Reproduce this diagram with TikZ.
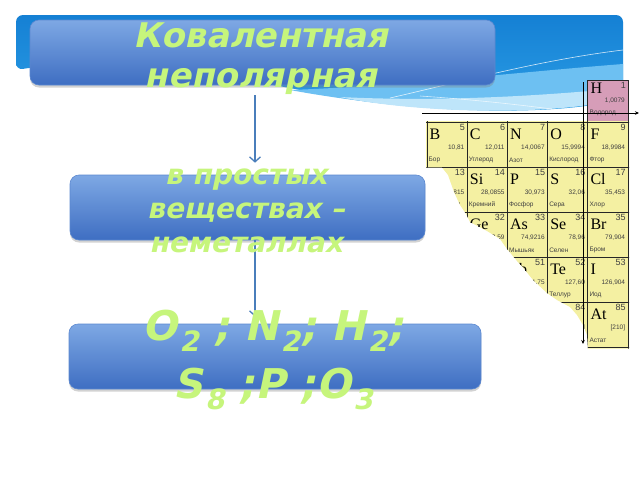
\documentclass[tikz,border=0pt]{standalone}
\usepackage{fontspec}
\setmainfont{DejaVu Sans}
\newfontfamily\boxfont{DejaVu Sans Bold}[FakeSlant=0.21]
\newfontfamily\symfont{Liberation Serif}
\newfontfamily\smallfont{Liberation Sans}
\usetikzlibrary{calc,arrows.meta,shadows}

\definecolor{bandtop}{HTML}{1580D4}
\definecolor{bandbot}{HTML}{2C9FE6}
\definecolor{wavemid}{HTML}{6DC0F2}
\definecolor{wavelight}{HTML}{BEE5FA}
\definecolor{boxtop}{HTML}{7EA8E4}
\definecolor{boxbot}{HTML}{3E6EC2}
\definecolor{boxedge}{HTML}{5B88D0}
\definecolor{textgreen}{HTML}{C6F57C}
\definecolor{arrowblue}{HTML}{4A7EBB}
\definecolor{cellyellow}{HTML}{F4F0A2}
\definecolor{cellpink}{HTML}{D69DB8}

\newcommand{\lowsub}[1]{\kern2.5pt\raisebox{-0.26em}{\fontsize{28}{28}\selectfont #1}}

\begin{document}
\begin{tikzpicture}[x=1pt,y=-1pt,
    bluebox/.style={rounded corners=9pt, top color=boxtop, bottom color=boxbot, draw=boxedge, line width=0.6pt,
                    drop shadow={opacity=0.35, shadow xshift=0pt, shadow yshift=-2.5pt}, inner sep=0pt},
    boxtext/.style={text=textgreen, align=center, inner sep=0pt, font=\boxfont#1},
    flow/.style={draw=arrowblue, line width=2pt, -{Straight Barb[length=5pt,width=11pt,line width=1.3pt]}},
    axisline/.style={line width=0.7pt, -{Stealth[length=4pt,width=3.5pt]}},
    gridline/.style={line width=0.8pt, draw=black!85},
    elsym/.style={font=\symfont\fontsize{16}{16}\selectfont, inner sep=0pt, anchor=base west},
    elnum/.style={font=\smallfont\fontsize{9}{9}\selectfont, inner sep=0pt, anchor=north east, text=black!75},
    elmass/.style={font=\smallfont\fontsize{6.5}{6.5}\selectfont, inner sep=0pt, anchor=east, text=black!75},
    elname/.style={font=\smallfont\fontsize{6.5}{6.5}\selectfont, inner sep=0pt, anchor=west, text=black!75}]

    \fill[white] (0,0) rectangle (640,480);
    \useasboundingbox (0,0) rectangle (640,480);

    \shade[top color=bandtop, bottom color=bandbot, rounded corners=7pt] (16,70) -- (16,15) -- (623,15) -- (623,98)
          .. controls (560,116) and (420,114) .. (310,92) .. controls (210,72) and (90,58) .. (16,70) -- cycle;
    \fill[wavemid] (290,90) .. controls (400,86) and (520,72) .. (623,64) -- (623,98) .. controls (560,116) and (420,114) .. (290,90) -- cycle;
    \fill[wavelight] (340,97) .. controls (440,102) and (540,96) .. (623,88) -- (623,98) .. controls (560,116) and (420,114) .. (340,97) -- cycle;
    \draw[white, line width=0.6pt, opacity=0.8] (390,98) .. controls (460,82) and (540,60) .. (623,50);
    \draw[white, line width=0.6pt, opacity=0.7] (420,96) .. controls (480,100) and (530,106) .. (575,112);

    \node[bluebox, minimum width=465pt, minimum height=65pt] (kov) at (262.5,52.5) {};
    \node[bluebox, minimum width=355pt, minimum height=65pt] (prost) at (247.5,207.5) {};
    \node[bluebox, minimum width=412pt, minimum height=65pt] (formul) at (275,356.5) {};

    \coordinate (flowx) at (255,0);
    \draw[flow, shorten <=10pt, shorten >=12pt] (kov.south -| flowx) -- (prost.north -| flowx);
    \draw[flow, shorten >=7pt] (prost.south -| flowx) -- (formul.north -| flowx);

    \node[boxtext=\fontsize{34}{40}\selectfont] (kovtext) at (261,58.5) {Ковалентная\\неполярная};
    \node[boxtext=\fontsize{28}{34}\selectfont] (prosttext) at (246,211) {в простых\\веществах –\\неметаллах};
    \node[boxtext=\fontsize{41}{58}\selectfont] (formultext) at (273,360)
          {O\lowsub{2} ; N\lowsub{2}; H\lowsub{2};\\S\lowsub{8} ;P ;O\lowsub{3}};

    \fill[cellpink] (587.8,80) rectangle (628,122);
    \draw[gridline] (587.8,80) rectangle (628,122);
    \node[elsym] (symH) at (590.5,93) {H};
    \node[elnum] (num1) at (626,82) {1};
    \node[elmass] (mass1) at (625,101) {1,0079};
    \node[elname] (name1) at (589.5,113) {Водород};

    \begin{scope}
        \clip (426,121) -- (629,121) -- (629,348.5) -- (588,348.5) -- (587,335) -- (583,325) -- (577,315) -- (570,307)
              -- (557,300) -- (547,293) -- (533,280) -- (525,270) -- (517,261) -- (507,249) -- (500,239) -- (487,231)
              -- (470,222) -- (466,214) -- (460,205) -- (454,192) -- (448,175) -- (442,167.5) -- (426,167.5) -- cycle;
        \fill[cellyellow] (420,115) rectangle (635,355);
        \foreach \gx in {427,467.2,507.4,547.6,587.8,628}
            \draw[gridline] (\gx,118) -- (\gx,352);
        \foreach \gy in {122,167,212,257,302,347}
            \draw[gridline] (420,\gy) -- (635,\gy);
        \foreach \col/\row/\sym/\num/\mass/\nm in {0/0/B/5/{10,81}/Бор, 1/0/C/6/{12,011}/Углерод, 2/0/N/7/{14,0067}/Азот,
                    3/0/O/8/{15,9994}/Кислород, 4/0/F/9/{18,9984}/Фтор, 0/1/Al/13/{26,9815}/Алюминий,
                    1/1/Si/14/{28,0855}/Кремний, 2/1/P/15/{30,973}/Фосфор, 3/1/S/16/{32,06}/Сера,
                    4/1/Cl/17/{35,453}/Хлор, 1/2/Ge/32/{72,59}/Германий, 2/2/As/33/{74,9216}/Мышьяк,
                    3/2/Se/34/{78,96}/Селен, 4/2/Br/35/{79,904}/Бром, 2/3/Sb/51/{121,75}/Сурьма,
                    3/3/Te/52/{127,60}/Теллур, 4/3/I/53/{126,904}/Иод, 3/4/Po/84/{[209]}/Полоний,
                    4/4/At/85/{[210]}/Астат}{
            \coordinate (cell) at (427+\col*40.2,122+\row*45);
            \node[elsym] (sym\num) at ($(cell)+(2.5,17)$) {\sym};
            \node[elnum] (num\num) at ($(cell)+(38,2.5)$) {\num};
            \node[elmass] (mass\num) at ($(cell)+(37.5,26)$) {\mass};
            \node[elname] (name\num) at ($(cell)+(1.5,38)$) {\nm};
        }
    \end{scope}

    \coordinate (hstart) at (422,113);
    \coordinate (hend) at (639,113);
    \coordinate (vstart) at (583,82);
    \coordinate (vend) at (583,344);
    \draw[axisline] (hstart) -- (hend);
    \draw[axisline] (vstart) -- (vend);
\end{tikzpicture}
\end{document}
